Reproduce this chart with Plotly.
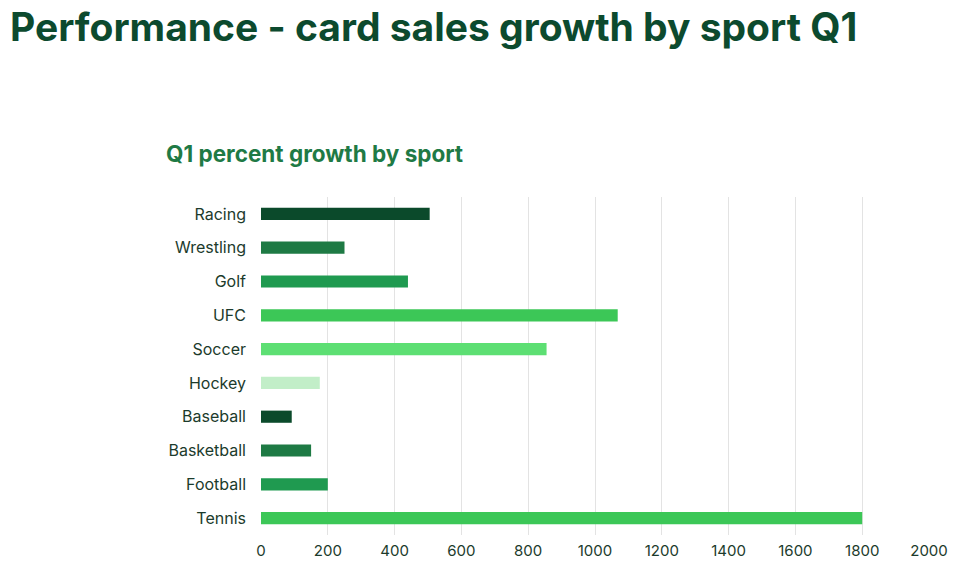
import plotly.graph_objects as go

sports = ["Racing", "Wrestling", "Golf", "UFC", "Soccer", "Hockey",
          "Baseball", "Basketball", "Football", "Tennis"]
growth = [505, 250, 440, 1068, 855, 176, 92, 150, 200, 1800]
colors = ["#0b4a2b", "#1e7a44", "#1f9a50", "#3cc757", "#5ddf73", "#c2eec8",
          "#0b4a2b", "#1e7a44", "#1f9a50", "#3cc757"]
x_ticks = [0, 200, 400, 600, 800, 1000, 1200, 1400, 1600, 1800, 2000]

fig = go.Figure(go.Bar(
    x=growth, y=sports, orientation="h",
    marker=dict(color=colors, line=dict(width=0)),
))

fig.update_layout(
    width=960, height=572,
    margin=dict(l=261, r=25, t=197, b=31),
    paper_bgcolor="white", plot_bgcolor="white",
    bargap=0.64,
    showlegend=False,
    font=dict(family="Inter, Roboto, sans-serif", color="#1c3b2c", size=16),
    title=dict(
        text="<b>Performance - card sales growth by sport Q1</b>",
        xref="container", yref="container",
        x=10/960, xanchor="left",
        y=1 - 14/572, yanchor="top",
        font=dict(family="Inter, Roboto, sans-serif", size=39, color="#0c4a2e"),
    ),
    annotations=[dict(
        text="<b>Q1 percent growth by sport</b>",
        xref="paper", yref="paper",
        x=(163 - 261) / 674, xanchor="left",
        y=(541 - 153) / 344, yanchor="middle",
        showarrow=False,
        font=dict(family="Inter, Roboto, sans-serif", size=22.5, color="#1f7a45"),
    )],
)

fig.update_xaxes(
    range=[0, 2000], tickvals=x_ticks,
    showgrid=True, gridcolor="#e3e3e3", gridwidth=1,
    zeroline=False, showline=False,
    tickfont=dict(size=15, color="#1c3b2c"),
    ticks="", ticklabelstandoff=5,
)
fig.update_yaxes(
    autorange="reversed",
    showgrid=False, zeroline=False, showline=False,
    tickfont=dict(size=16, color="#1c3b2c"),
    ticks="", ticklabelstandoff=14,
)

fig.write_html(
    "out.html",
    config={"displayModeBar": False},
    post_script="document.body.style.margin='0';document.body.style.overflow='hidden';",
)
